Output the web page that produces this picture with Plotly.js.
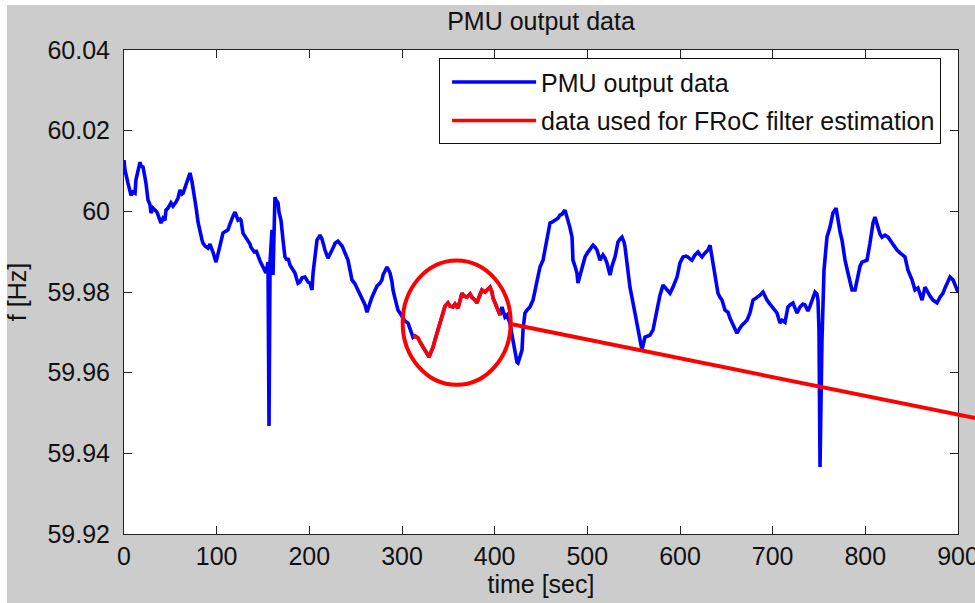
<!DOCTYPE html>
<html>
<head>
<meta charset="utf-8">
<script src="https://cdn.plot.ly/plotly-3.0.1.min.js"></script>
<style>
  html, body { margin: 0; padding: 0; background: #ffffff; }
  #chart { width: 975px; height: 603px; }
</style>
</head>
<body>
<div id="chart"></div>
<script>
// ---- data ----
const time = [0, 1.1, 4.3, 7.6, 9.7, 11.9, 12.9, 15.1, 17.3, 18.3, 20.5, 22.7, 23.7, 25.9, 28.1, 29.1, 31.3, 33.5, 35.6, 36.7,
  38.8, 39.9, 42.1, 44.2, 45.3, 47.5, 50.7, 52.9, 56.1, 58.3, 60.4, 62.6, 63.8, 65.9, 66.9, 69.1, 71.2, 73.4, 74.5, 76.6,
  77.7, 79.9, 82.0, 84.2, 85.3, 87.4, 90.6, 92.8, 93.9, 96.0, 99.3, 101.4, 103.6, 105.8, 106.8, 110.1, 112.2, 114.4, 115.5, 117.6,
  119.8, 121.9, 123.0, 125.2, 126.3, 128.4, 130.6, 133.8, 136.0, 137.0, 139.2, 141.4, 142.4, 144.6, 146.8, 150.0, 152.2, 153.2, 155.4, 156.5,
  157.6, 159.7, 160.8, 161.9, 162.9, 164.0, 166.2, 167.3, 169.4, 171.6, 173.7, 175.9, 177.0, 179.1, 181.3, 184.5, 186.7, 187.8, 189.9, 192.1,
  195.3, 198.6, 200.7, 202.9, 204.0, 206.1, 208.3, 210.4, 211.5, 213.7, 214.7, 216.9, 220.1, 222.3, 224.5, 226.6, 227.7, 230.9, 233.1, 235.3,
  236.3, 238.5, 241.7, 243.9, 246.0, 249.3, 251.4, 254.7, 256.8, 260.1, 262.2, 263.3, 265.5, 267.6, 270.9, 273.0, 276.3, 278.4, 279.5, 281.7,
  283.8, 284.9, 287.1, 289.2, 290.3, 292.4, 295.7, 297.8, 301.1, 303.2, 306.5, 308.6, 310.8, 311.9, 314.0, 317.3, 319.4, 322.7, 324.8, 327.0,
  329.1, 331.3, 333.5, 335.6, 338.8, 341.0, 344.2, 346.4, 349.6, 351.8, 355.0, 357.2, 360.4, 362.6, 364.7, 366.9, 370.1, 373.4, 375.5, 378.8,
  380.9, 383.1, 386.3, 389.6, 391.7, 395.0, 397.1, 398.2, 400.4, 402.5, 404.7, 405.8, 407.9, 411.1, 413.3, 416.5, 418.7, 421.9, 424.1, 425.2,
  427.3, 429.5, 430.6, 432.7, 434.9, 438.1, 441.4, 443.5, 445.7, 448.9, 452.2, 454.3, 456.5, 459.7, 461.9, 465.1, 468.3, 470.5, 472.7, 475.9,
  478.0, 479.1, 481.3, 483.5, 484.5, 486.7, 488.8, 489.9, 492.1, 494.2, 497.5, 500.7, 502.9, 506.1, 508.3, 510.4, 513.7, 516.9, 519.1, 521.2,
  524.5, 526.6, 529.9, 533.1, 535.3, 537.4, 539.6, 540.7, 542.8, 546.0, 549.3, 551.4, 553.6, 556.8, 559.0, 560.1, 562.2, 565.5, 567.6, 570.9,
  573.0, 575.2, 578.4, 581.7, 586.0, 589.2, 592.4, 594.6, 596.8, 600.0, 603.2, 606.5, 608.6, 610.8, 612.9, 616.2, 619.4, 621.6, 623.7, 627.0,
  630.2, 632.4, 634.5, 637.8, 641.0, 643.2, 645.3, 648.6, 651.8, 654.0, 656.1, 659.4, 661.5, 664.8, 666.9, 670.2, 672.3, 675.5, 678.8, 680.9,
  684.2, 686.3, 689.6, 691.7, 693.9, 697.1, 699.3, 702.5, 704.7, 707.9, 710.1, 713.3, 716.5, 718.7, 721.9, 724.1, 726.3, 729.5, 732.7, 734.9,
  738.1, 740.3, 743.5, 745.7, 747.8, 748.9, 750.0, 751.1, 752.2, 753.2, 755.4, 756.5, 758.6, 761.9, 765.1, 768.4, 770.5, 772.7, 774.8, 778.1,
  781.3, 783.5, 785.6, 788.9, 791.0, 792.1, 794.3, 796.4, 799.6, 801.8, 805.0, 808.3, 810.4, 812.6, 813.7, 815.8, 818.0, 821.2, 824.5, 826.6,
  828.8, 832.0, 834.2, 837.4, 839.6, 842.8, 846.0, 848.2, 850.4, 853.6, 856.8, 859.0, 861.2, 864.4, 867.6, 869.8, 873.0, 875.2, 877.4, 880.6,
  883.8, 886.0, 888.1, 891.4, 894.6, 896.7, 898.9, 900];

const freq = [60.0127, 60.0102, 60.0070, 60.0040, 60.0048, 60.0045, 60.0078, 60.0102, 60.0122, 60.0112, 60.0110, 60.0083, 60.0070, 60.0028, 60.0016, 59.9996, 60.0008, 60.0003, 59.9998, 59.9991,
  59.9978, 59.9971, 59.9983, 59.9978, 60.0003, 60.0008, 60.0021, 60.0013, 60.0023, 60.0033, 60.0053, 60.0043, 60.0045, 60.0060, 60.0070, 60.0083, 60.0095, 60.0073, 60.0058, 60.0033,
  60.0011, 59.9973, 59.9946, 59.9929, 59.9921, 59.9914, 59.9909, 59.9919, 59.9911, 59.9899, 59.9874, 59.9894, 59.9911, 59.9934, 59.9946, 59.9951, 59.9954, 59.9969, 59.9978, 59.9988,
  59.9998, 59.9983, 59.9978, 59.9981, 59.9978, 59.9946, 59.9939, 59.9929, 59.9919, 59.9911, 59.9904, 59.9897, 59.9904, 59.9887, 59.9877, 59.9862, 59.9852, 59.9847, 59.9874, 59.9468,
  59.9874, 59.9954, 59.9842, 60.0003, 60.0035, 60.0028, 60.0021, 59.9998, 59.9978, 59.9929, 59.9887, 59.9879, 59.9884, 59.9867, 59.9859, 59.9847, 59.9830, 59.9822, 59.9825, 59.9835,
  59.9837, 59.9825, 59.9822, 59.9805, 59.9847, 59.9892, 59.9929, 59.9936, 59.9941, 59.9931, 59.9921, 59.9904, 59.9884, 59.9892, 59.9904, 59.9914, 59.9921, 59.9926, 59.9921, 59.9914,
  59.9909, 59.9897, 59.9879, 59.9854, 59.9830, 59.9820, 59.9810, 59.9797, 59.9787, 59.9768, 59.9750, 59.9760, 59.9773, 59.9787, 59.9805, 59.9815, 59.9822, 59.9830, 59.9842, 59.9852,
  59.9862, 59.9857, 59.9847, 59.9825, 59.9805, 59.9785, 59.9755, 59.9748, 59.9738, 59.9728, 59.9723, 59.9711, 59.9698, 59.9688, 59.9691, 59.9686, 59.9676, 59.9663, 59.9656, 59.9646,
  59.9639, 59.9651, 59.9663, 59.9681, 59.9706, 59.9730, 59.9755, 59.9765, 59.9773, 59.9765, 59.9763, 59.9770, 59.9760, 59.9780, 59.9797, 59.9790, 59.9787, 59.9795, 59.9787, 59.9780,
  59.9773, 59.9787, 59.9805, 59.9800, 59.9805, 59.9812, 59.9800, 59.9785, 59.9773, 59.9760, 59.9750, 59.9743, 59.9763, 59.9738, 59.9743, 59.9723, 59.9693, 59.9651, 59.9626, 59.9624,
  59.9639, 59.9656, 59.9706, 59.9748, 59.9755, 59.9763, 59.9780, 59.9805, 59.9830, 59.9862, 59.9879, 59.9904, 59.9929, 59.9971, 59.9973, 59.9978, 59.9983, 59.9991, 59.9993, 60.0003,
  59.9988, 59.9978, 59.9959, 59.9936, 59.9879, 59.9864, 59.9847, 59.9822, 59.9840, 59.9854, 59.9887, 59.9899, 59.9907, 59.9916, 59.9911, 59.9904, 59.9879, 59.9892, 59.9884, 59.9872,
  59.9842, 59.9864, 59.9887, 59.9924, 59.9931, 59.9936, 59.9924, 59.9911, 59.9872, 59.9812, 59.9773, 59.9748, 59.9723, 59.9686, 59.9656, 59.9668, 59.9688, 59.9691, 59.9693, 59.9706,
  59.9730, 59.9755, 59.9792, 59.9817, 59.9805, 59.9797, 59.9812, 59.9825, 59.9837, 59.9872, 59.9887, 59.9889, 59.9887, 59.9882, 59.9879, 59.9892, 59.9899, 59.9892, 59.9887, 59.9897,
  59.9904, 59.9916, 59.9887, 59.9847, 59.9797, 59.9787, 59.9780, 59.9755, 59.9750, 59.9735, 59.9723, 59.9708, 59.9698, 59.9711, 59.9718, 59.9725, 59.9730, 59.9748, 59.9780, 59.9783,
  59.9787, 59.9792, 59.9800, 59.9790, 59.9780, 59.9770, 59.9763, 59.9755, 59.9748, 59.9723, 59.9730, 59.9725, 59.9763, 59.9768, 59.9773, 59.9760, 59.9748, 59.9763, 59.9770, 59.9768,
  59.9753, 59.9765, 59.9787, 59.9800, 59.9795, 59.9780, 59.9706, 59.9366, 59.9532, 59.9681, 59.9854, 59.9879, 59.9936, 59.9961, 59.9996, 60.0008, 59.9971, 59.9949, 59.9929, 59.9879,
  59.9847, 59.9822, 59.9805, 59.9805, 59.9830, 59.9847, 59.9864, 59.9874, 59.9877, 59.9879, 59.9921, 59.9971, 59.9986, 59.9966, 59.9954, 59.9944, 59.9936, 59.9941, 59.9936, 59.9929,
  59.9921, 59.9911, 59.9904, 59.9897, 59.9892, 59.9887, 59.9854, 59.9842, 59.9830, 59.9805, 59.9810, 59.9795, 59.9780, 59.9812, 59.9797, 59.9790, 59.9780, 59.9775, 59.9773, 59.9787,
  59.9797, 59.9810, 59.9822, 59.9837, 59.9830, 59.9817, 59.9805, 59.9800];

// segment used for the FRoC filter estimation (time window, sec)
const redWindow = [311.9, 405.8];

// highlight annotations (data units)
const ellipseTime = [300.7, 417.3];
const ellipseFreq = [59.9570, 59.9878];
const pointerTime = [418.7, 930];
const pointerFreq = [59.9720, 59.9482];

// axes
const xRange = [0, 900];
const yRange = [59.92, 60.04];
const xTickVals = [0, 100, 200, 300, 400, 500, 600, 700, 800, 900];
const yTickVals = [59.92, 59.94, 59.96, 59.98, 60, 60.02, 60.04];
const yTickText = ['59.92', '59.94', '59.96', '59.98', '60', '60.02', '60.04'];

const seriesNames = ['PMU output data', 'data used for FRoC filter estimation'];
const chartTitle = 'PMU output data';
const xTitle = 'time [sec]';
const yTitle = 'f [Hz]';

// ---- build ----
const redT = [], redF = [];
time.forEach((t, i) => {
  if (t >= redWindow[0] && t <= redWindow[1]) { redT.push(t); redF.push(freq[i]); }
});

const toPX = v => (v - xRange[0]) / (xRange[1] - xRange[0]);
const toPY = v => (v - yRange[0]) / (yRange[1] - yRange[0]);

const FONT = 'Liberation Sans, Arial, Helvetica, sans-serif';
const INK = '#111111';
const FS = 25;

const traces = [
  { x: time, y: freq, type: 'scatter', mode: 'lines', name: seriesNames[0], legendgroup: 'a',
    line: { color: '#0000ff', width: 3.6 }, hoverinfo: 'skip' },
  { x: redT, y: redF, type: 'scatter', mode: 'lines', name: seriesNames[1], legendgroup: 'b',
    line: { color: '#ff0000', width: 3.6 }, hoverinfo: 'skip' }
];

const axisCommon = {
  showgrid: false, zeroline: false, showline: true, linecolor: '#222222', linewidth: 1,
  mirror: 'ticks', ticks: 'inside', ticklen: 8, tickwidth: 1, tickcolor: '#222222',
  tickfont: { family: FONT, size: FS, color: INK }, automargin: false, fixedrange: true,
  ticklabeloverflow: 'allow'
};

const layout = {
  width: 975, height: 603,
  paper_bgcolor: '#cccccc', plot_bgcolor: '#ffffff',
  margin: { l: 124, r: 17, t: 50, b: 69, pad: 0 },
  font: { family: FONT, size: FS, color: INK },
  title: { text: chartTitle, font: { family: FONT, size: FS, color: INK },
           x: 0.5, xref: 'paper', xanchor: 'center', y: 1 - 21 / 603, yref: 'container', yanchor: 'middle' },
  xaxis: Object.assign({}, axisCommon, {
    range: xRange, tickmode: 'array', tickvals: xTickVals, ticklabelstandoff: 0,
    title: { text: xTitle, font: { family: FONT, size: FS, color: INK }, standoff: 6 }
  }),
  yaxis: Object.assign({}, axisCommon, {
    range: yRange, tickmode: 'array', tickvals: yTickVals, ticktext: yTickText, ticklabelstandoff: 8,
    title: { text: yTitle, font: { family: FONT, size: FS, color: INK }, standoff: 13 }
  }),
  showlegend: true,
  legend: {
    x: toPX(340), y: 0.983, xanchor: 'left', yanchor: 'top',
    bgcolor: '#ffffff', bordercolor: '#111111', borderwidth: 1,
    font: { family: FONT, size: FS, color: INK }, itemwidth: 84, indentation: 7, tracegroupgap: 3
  },
  shapes: [
    { type: 'circle', xref: 'x', yref: 'y', x0: ellipseTime[0], x1: ellipseTime[1], y0: ellipseFreq[0], y1: ellipseFreq[1],
      line: { color: '#ff0000', width: 4 } },
    { type: 'line', xref: 'paper', yref: 'paper',
      x0: toPX(pointerTime[0]), x1: toPX(pointerTime[1]), y0: toPY(pointerFreq[0]), y1: toPY(pointerFreq[1]),
      line: { color: '#ff0000', width: 4 } },
    // white borders of the cropped screenshot
    { type: 'rect', xref: 'paper', yref: 'paper', x0: -130 / 834, x1: -117 / 834, y0: -80 / 484, y1: 540 / 484,
      fillcolor: '#ffffff', line: { width: 0 }, layer: 'below' },
    { type: 'rect', xref: 'paper', yref: 'paper', x0: -130 / 834, x1: 860 / 834, y0: 529 / 484, y1: 540 / 484,
      fillcolor: '#ffffff', line: { width: 0 }, layer: 'below' }
  ]
};

Plotly.newPlot('chart', traces, layout, { staticPlot: true, displayModeBar: false });
</script>
</body>
</html>
